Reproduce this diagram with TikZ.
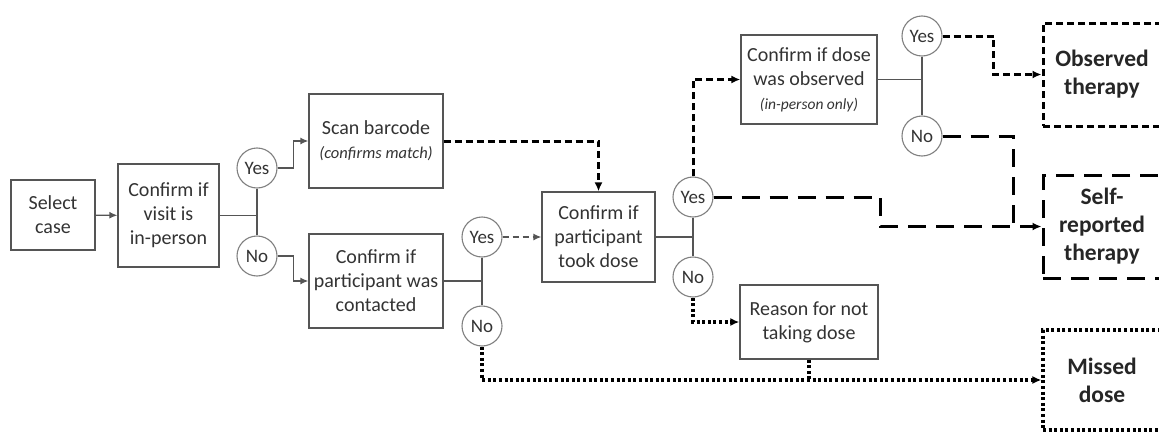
\documentclass[tikz,border=0pt]{standalone}
\usepackage{fontspec}
\setmainfont{Carlito}
\usepackage{xcolor}
\usepackage{tikz}
\usetikzlibrary{arrows.meta, positioning}

\definecolor{linegray}{HTML}{555555}
\definecolor{textgray}{HTML}{333333}

\begin{document}
\begin{tikzpicture}[
    x=1pt, y=-1pt,
    box/.style={rectangle, draw=linegray, line width=1.3pt, text=textgray, align=center, inner sep=2pt, font=\fontsize{20}{24}\selectfont},
    choice/.style={circle, draw=gray, line width=1.1pt, minimum size=40pt, inner sep=0pt, text=textgray, font=\fontsize{19}{20}\selectfont},
    outcome/.style={rectangle, draw=black, line width=3pt, minimum width=118pt, align=center, text=black!85, font=\fontsize{23.5}{28}\selectfont\bfseries},
    link/.style={draw=linegray, line width=1.3pt},
    arrow/.style={link, -{Latex[length=8pt, width=7pt]}},
    obs/.style={line width=3pt, dash pattern=on 7pt off 4pt},
    self/.style={line width=3pt, dash pattern=on 18pt off 10pt},
    miss/.style={line width=3.2pt, dash pattern=on 3pt off 2.6pt},
    tip/.style={-{Latex[length=9pt, width=8pt]}}
]
\useasboundingbox (0,0) rectangle (1159,431);

% first steps
\node[box, minimum width=84pt, minimum height=70pt] (select) at (53,215) {Select\\case};
\node[box, minimum width=101pt, minimum height=103pt] (visit) at (168.5,215.5) {Confirm if\\visit is\\in-person};
\node[choice] (yesvisit) at (257,168) {Yes};
\node[choice] (novisit) at (257,256) {No};

\node[box, minimum width=134pt, minimum height=94pt] (scan) at (376,141) {Scan barcode\\{\fontsize{16.5}{21}\selectfont\itshape (confirms match)}};
\node[box, minimum width=134pt, minimum height=94pt] (contact) at (376,281) {Confirm if\\participant was\\contacted};
\node[choice] (yescontact) at (482,237) {Yes};
\node[choice] (nocontact) at (482,326) {No};

% dose
\node[box, minimum width=113pt, minimum height=90pt] (took) at (598.5,237) {Confirm if\\participant\\took dose};
\node[choice] (yestook) at (693,197) {Yes};
\node[choice] (notook) at (693,277) {No};

\node[box, minimum width=136pt, minimum height=89pt] (observe) at (809,79.5) {Confirm if dose\\was observed\\{\fontsize{15.5}{19}\selectfont\itshape (in-person only)}};
\node[box, minimum width=138pt, minimum height=74pt] (reason) at (809,322) {Reason for not\\taking dose};
\node[choice] (yesobs) at (922,36) {Yes};
\node[choice] (noobs) at (922,136) {No};

% outcomes
\node[outcome, obs, minimum height=103pt] (obsther) at (1102,74.5) {Observed\\therapy};
\node[outcome, self, minimum height=103pt] (selfther) at (1102,226.5) {Self-\\reported\\therapy};
\node[outcome, miss, minimum height=100pt] (missed) at (1102,380) {Missed\\dose};

% connectors
\draw[arrow] (select) -- (visit);
\draw[link] (visit.east) -- (visit.east -| yesvisit);
\draw[link] (yesvisit.south) -- (novisit.north);
\draw[arrow] (yesvisit.east) -- ++(16,0) |- (scan.west);
\draw[arrow] (novisit.east) -- ++(16,0) |- (contact.west);

\draw[link] (contact.east) -- (contact.east -| yescontact);
\draw[link] (yescontact.south) -- (nocontact.north);
\draw[arrow, dash pattern=on 6pt off 4pt] (yescontact.east) -- (took.west);
\draw[obs, tip] (scan.east) -| (took.north);

\draw[link] (took.east) -- (took.east -| yestook);
\draw[link] (yestook.south) -- (notook.north);
\draw[obs, tip] (yestook.north) |- (observe.west);
\draw[miss, tip] (notook.south) |- (reason.west);

\draw[link] (observe.east) -- (observe.east -| yesobs);
\draw[link] (yesobs.south) -- (noobs.north);
\draw[obs, tip] (yesobs.east) -- ++(51,0) |- (obsther.west);
\draw[self, tip] (yestook.east) -- ++(167,0) |- (selfther.west);
\draw[self] (noobs.east) -- ++(71,0) coordinate (nobend) -- (nobend |- selfther.west);

\draw[miss, tip] (nocontact.south) |- (missed.west);
\draw[miss] (reason.south) -- (reason.south |- missed.west);

\end{tikzpicture}
\end{document}
